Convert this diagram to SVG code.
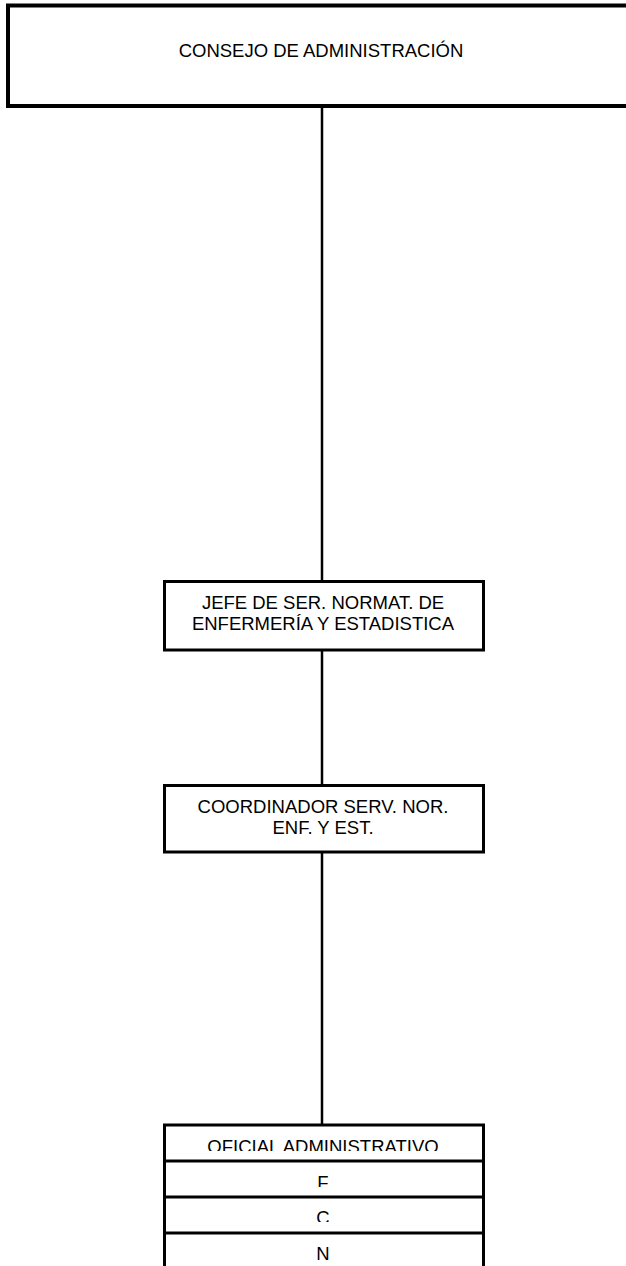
<svg xmlns="http://www.w3.org/2000/svg" width="626" height="1266" viewBox="0 0 626 1266">
<style>
.box{fill:#fff;stroke:#000;stroke-width:3}
.top{fill:#fff;stroke:#000;stroke-width:4}
.t{font-family:"Liberation Sans",Arial,sans-serif;font-size:18.5px;fill:#000;text-anchor:middle}
.c{stroke:#000;stroke-width:2.5;fill:none}
</style>
<defs>
<clipPath id="r0"><rect x="165" y="1126" width="318" height="25"/></clipPath>
<clipPath id="r1"><rect x="165" y="1162" width="318" height="25"/></clipPath>
<clipPath id="r2"><rect x="165" y="1198" width="318" height="24"/></clipPath>
<clipPath id="r3"><rect x="165" y="1234" width="318" height="40"/></clipPath>
</defs>
<rect width="626" height="1266" fill="#fff"/>
<g id="connectors">
<line class="c" x1="322" y1="106" x2="322" y2="581"/>
<line class="c" x1="322" y1="650" x2="322" y2="785"/>
<line class="c" x1="322" y1="852" x2="322" y2="1125"/>
</g>
<g id="consejo">
<rect class="top" x="8" y="5.5" width="640" height="100.5"/>
<text class="t" x="321" y="57">CONSEJO DE ADMINISTRACIÓN</text>
</g>
<g id="jefe">
<rect class="box" x="164.5" y="581.5" width="319" height="68.5"/>
<text class="t" x="323" y="609">JEFE DE SER. NORMAT. DE</text>
<text class="t" x="323" y="630">ENFERMERÍA Y ESTADISTICA</text>
</g>
<g id="coordinador">
<rect class="box" x="164.5" y="785.5" width="319" height="66.5"/>
<text class="t" x="323" y="813">COORDINADOR SERV. NOR.</text>
<text class="t" x="323" y="834">ENF. Y EST.</text>
</g>
<g id="oficial">
<rect class="box" x="164.5" y="1125" width="319" height="160"/>
<line class="box" x1="164.5" y1="1161" x2="483.5" y2="1161"/>
<line class="box" x1="164.5" y1="1197" x2="483.5" y2="1197"/>
<line class="box" x1="164.5" y1="1233" x2="483.5" y2="1233"/>
<text class="t" x="323" y="1153" clip-path="url(#r0)">OFICIAL ADMINISTRATIVO</text>
<text class="t" x="323" y="1189" clip-path="url(#r1)">F</text>
<text class="t" x="323" y="1224" clip-path="url(#r2)">C</text>
<text class="t" x="323" y="1260" clip-path="url(#r3)">N</text>
</g>
</svg>
